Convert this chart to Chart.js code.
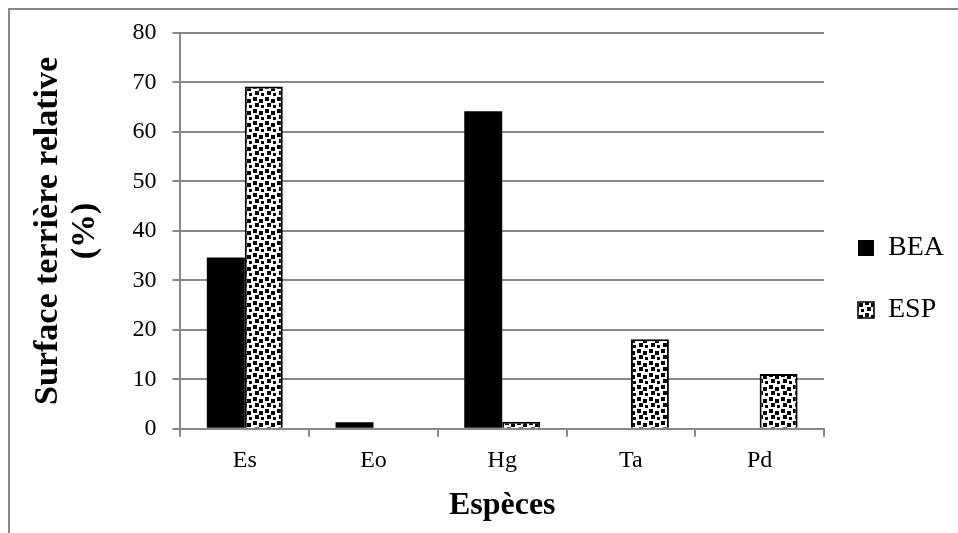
<!DOCTYPE html>
<html>
<head>
<meta charset="utf-8">
<script src="https://cdn.jsdelivr.net/npm/chart.js@4"></script>
<style>
	html, body { margin: 0; padding: 0; background: #fff; overflow: hidden; }
	canvas { display: block; }
</style>
</head>
<body>
<canvas id="chart" width="958" height="533"></canvas>
<script>
const categories = ["Es", "Eo", "Hg", "Ta", "Pd"];
const beaValues = [34.6, 1.3, 64.2, 0, 0];
const espValues = [69.2, 0, 1.4, 18.1, 11.1];
const yTicks = [0, 10, 20, 30, 40, 50, 60, 70, 80];

const FONT = "'Liberation Serif', 'DejaVu Serif', serif";

// dotted fill for the ESP series
function makeDots() {
	let c = document.createElement("canvas");
	c.width = 12;
	c.height = 12;
	let g = c.getContext("2d");
	g.fillStyle = "#fff";
	g.fillRect(0, 0, 12, 12);
	g.fillStyle = "#000";
	g.fillRect(1, 1, 4, 4);
	g.fillRect(7, 3, 4, 4);
	g.fillRect(3, 7, 4, 4);
	g.fillRect(9, 9, 3, 3);
	return g.createPattern(c, "repeat");
}

// grey frame on the top and left edges, like the original export
const frame = {
	id: "frame",
	beforeDraw(chart) {
		let g = chart.ctx;
		g.save();
		g.strokeStyle = "#888";
		g.lineWidth = 2;
		g.beginPath();
		g.moveTo(9, chart.height);
		g.lineTo(9, 9);
		g.lineTo(chart.width, 9);
		g.stroke();
		g.restore();
	}
};

let ctx = document.getElementById("chart").getContext("2d");
let dots = makeDots();

new Chart(ctx, {
	type: "bar",
	data: {
		labels: categories,
		datasets: [
			{
				label: "BEA",
				data: beaValues,
				backgroundColor: "#000",
				borderColor: "#000",
				borderWidth: 0
			},
			{
				label: "ESP",
				data: espValues,
				backgroundColor: dots,
				borderColor: "#000",
				borderWidth: 2,
				borderSkipped: "bottom"
			}
		]
	},
	options: {
		responsive: false,
		animation: false,
		datasets: {
			bar: { categoryPercentage: 0.59, barPercentage: 1 }
		},
		layout: { padding: { left: 30, top: 33, right: 4, bottom: 8 } },
		plugins: {
			tooltip: { enabled: false },
			legend: {
				position: "right",
				align: "center",
				labels: {
					color: "#000",
					font: { family: FONT, size: 28 },
					boxWidth: 16,
					boxHeight: 16,
					padding: 34,
					generateLabels(chart) {
						return chart.data.datasets.map((ds, i) => ({
							text: ds.label,
							fillStyle: ds.backgroundColor,
							strokeStyle: "#000",
							lineWidth: i === 1 ? 1.5 : 0,
							datasetIndex: i
						}));
					}
				}
			}
		},
		scales: {
			x: {
				grid: {
					display: true,
					drawOnChartArea: false,
					offset: true,
					color: "#888",
					lineWidth: 2,
					tickLength: 8
				},
				border: { color: "#888", width: 2 },
				ticks: { color: "#000", font: { family: FONT, size: 24 }, padding: 10 },
				title: {
					display: true,
					text: "Espèces",
					color: "#000",
					font: { family: FONT, size: 32, weight: "bold" },
					padding: { top: 1, bottom: 0 }
				}
			},
			y: {
				min: 0,
				max: 80,
				afterBuildTicks(axis) {
					axis.ticks = yTicks.map(v => ({ value: v }));
				},
				grid: { color: "#888", lineWidth: 2, tickLength: 8 },
				border: { color: "#888", width: 2 },
				ticks: { color: "#000", font: { family: FONT, size: 24 }, padding: 16 },
				title: {
					display: true,
					text: ["Surface terrière relative", "(%)"],
					color: "#000",
					font: { family: FONT, size: 34, weight: "bold", lineHeight: 1.08 },
					padding: { top: 0, bottom: 13 }
				}
			}
		}
	},
	plugins: [frame]
});
</script>
</body>
</html>
